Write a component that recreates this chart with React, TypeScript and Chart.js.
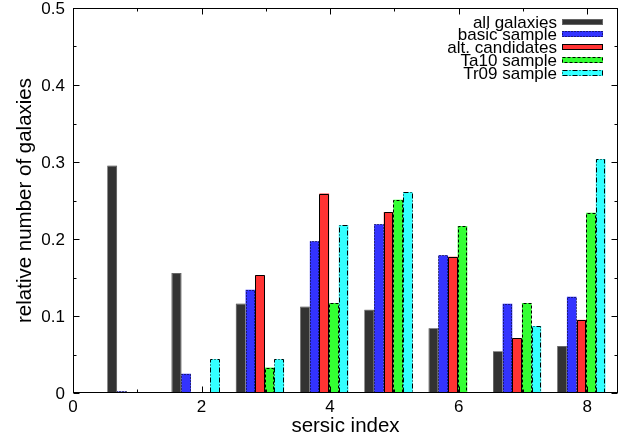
import React, { useEffect, useRef } from "react";
import { Chart, registerables } from "chart.js";

Chart.register(...registerables);

// Sersic index bins and the relative number of galaxies per sample
const sersicBins = [1, 2, 3, 4, 5, 6, 7, 8];
const allGalaxies = [0.295, 0.156, 0.116, 0.112, 0.108, 0.084, 0.054, 0.061];
const basicSample = [0.002, 0.025, 0.134, 0.197, 0.219, 0.179, 0.116, 0.125];
const altCandidates = [null, null, 0.153, 0.259, 0.235, 0.177, 0.071, 0.095];
const ta10Sample = [null, null, 0.033, 0.117, 0.251, 0.217, 0.117, 0.234];
const tr09Sample = [null, 0.044, 0.044, 0.218, 0.261, null, 0.087, 0.304];

const seriesLabels = ["all galaxies", "basic sample", "alt. candidates", "Ta10 sample", "Tr09 sample"];
const seriesValues = [allGalaxies, basicSample, altCandidates, ta10Sample, tr09Sample];

// Axis ticks
const xMajorTicks = [0, 2, 4, 6, 8];
const xMinorTicks = [1, 3, 5, 7];
const yMajorTicks = [0, 0.1, 0.2, 0.3, 0.4, 0.5];
const yMajorLabels = ["0", "0.1", "0.2", "0.3", "0.4", "0.5"];
const yMinorTicks = [0.05, 0.15, 0.25, 0.35, 0.45];

// Styling per series: fill, outline colour and outline dash
const seriesStyles = [
  { fill: "#333333", stroke: "#9a9a9a", dash: [1, 1] },
  { fill: "#3333ff", stroke: "#000000", dash: [1, 2] },
  { fill: "#ff3333", stroke: "#000000", dash: [] },
  { fill: "#33ff33", stroke: "#000000", dash: [3, 2] },
  { fill: "#33ffff", stroke: "#000000", dash: [5, 2, 1, 2] },
];

const GROUP_SHIFT = -0.09;
const FONT = '"Liberation Sans", Arial, Helvetica, sans-serif';

const framePlugin = {
  id: "gnuplotFrame",
  afterDatasetsDraw(chart: any) {
    const ctx = chart.ctx as CanvasRenderingContext2D;
    const { left, right, top, bottom } = chart.chartArea;
    const xs = chart.scales.x;
    const ys = chart.scales.y;

    ctx.save();
    // bar outlines (bins without a value get none)
    chart.data.datasets.forEach((ds: any, i: number) => {
      const meta = chart.getDatasetMeta(i);
      const st = seriesStyles[i];
      meta.data.forEach((el: any, j: number) => {
        const raw = ds.data[j];
        if (!raw || raw.y === null || raw.y === undefined) return;
        const p = el.getProps(["x", "y", "base", "width"], true);
        if (!isFinite(p.y) || !isFinite(p.base)) return;
        const x0 = Math.round(p.x - p.width / 2) + 0.5;
        const x1 = Math.round(p.x + p.width / 2) - 0.5;
        const y0 = Math.round(p.y) + 0.5;
        const y1 = Math.round(p.base) - 0.5;
        ctx.strokeStyle = st.stroke;
        ctx.lineWidth = 1;
        ctx.setLineDash(st.dash);
        ctx.beginPath();
        ctx.moveTo(x0, y1);
        ctx.lineTo(x0, y0);
        ctx.lineTo(x1, y0);
        ctx.lineTo(x1, y1);
        ctx.stroke();
      });
    });
    ctx.setLineDash([]);

    // frame
    ctx.strokeStyle = "#000";
    ctx.lineWidth = 1;
    ctx.strokeRect(Math.round(left) + 0.5, Math.round(top) + 0.5, Math.round(right - left) - 1, Math.round(bottom - top) - 1);

    // inward tick marks on all four sides
    const tick = (px: number, py: number, dx: number, dy: number) => {
      ctx.beginPath();
      ctx.moveTo(px, py);
      ctx.lineTo(px + dx, py + dy);
      ctx.stroke();
    };
    const bx = Math.round(bottom) - 0.5;
    const tx = Math.round(top) + 0.5;
    const lx = Math.round(left) + 0.5;
    const rx = Math.round(right) - 0.5;
    xMajorTicks.forEach((v) => {
      const px = Math.round(xs.getPixelForValue(v)) + 0.5;
      tick(px, bx, 0, -6);
      tick(px, tx, 0, 6);
    });
    xMinorTicks.forEach((v) => {
      const px = Math.round(xs.getPixelForValue(v)) + 0.5;
      tick(px, bx, 0, -3);
      tick(px, tx, 0, 3);
    });
    yMajorTicks.forEach((v) => {
      const py = Math.round(ys.getPixelForValue(v)) + 0.5;
      tick(lx, py, 6, 0);
      tick(rx, py, -6, 0);
    });
    yMinorTicks.forEach((v) => {
      const py = Math.round(ys.getPixelForValue(v)) + 0.5;
      tick(lx, py, 3, 0);
      tick(rx, py, -3, 0);
    });

    // tick labels
    ctx.fillStyle = "#000";
    ctx.font = `17px ${FONT}`;
    ctx.textBaseline = "alphabetic";
    ctx.textAlign = "center";
    xMajorTicks.forEach((v) => {
      ctx.fillText(String(v), xs.getPixelForValue(v), bottom + 19);
    });
    ctx.textAlign = "right";
    yMajorTicks.forEach((v, i) => {
      ctx.fillText(yMajorLabels[i], left - 8, ys.getPixelForValue(v) + 6);
    });

    // axis titles
    ctx.font = `20.5px ${FONT}`;
    ctx.textAlign = "center";
    ctx.fillText("sersic index", (left + right) / 2, bottom + 39);
    ctx.save();
    ctx.translate(31, (top + bottom) / 2);
    ctx.rotate(-Math.PI / 2);
    ctx.fillText("relative number of galaxies", 0, 0);
    ctx.restore();

    // key, top right inside the plot
    ctx.font = `17px ${FONT}`;
    ctx.textAlign = "right";
    seriesLabels.forEach((label, i) => {
      const cy = 21.5 + i * 12.95;
      ctx.fillStyle = "#000";
      ctx.fillText(label, 557, cy + 6);
      const st = seriesStyles[i];
      ctx.fillStyle = st.fill;
      ctx.fillRect(562, Math.round(cy) - 3, 41, 6);
      ctx.strokeStyle = st.stroke;
      ctx.setLineDash(st.dash);
      ctx.strokeRect(562.5, Math.round(cy) - 2.5, 40, 5);
      ctx.setLineDash([]);
    });
    ctx.restore();
  },
};

export default function App() {
  const canvasRef = useRef<HTMLCanvasElement | null>(null);

  useEffect(() => {
    if (!canvasRef.current) return;
    const chart = new Chart(canvasRef.current, {
      type: "bar",
      data: {
        datasets: seriesValues.map((vals, i) => ({
          label: seriesLabels[i],
          data: sersicBins.map((b, j) => ({ x: b + GROUP_SHIFT, y: vals[j] })),
          backgroundColor: seriesStyles[i].fill,
          borderWidth: 0,
          categoryPercentage: 0.75,
          barPercentage: 1,
        })),
      },
      plugins: [framePlugin],
      options: {
        responsive: false,
        animation: false,
        devicePixelRatio: 1,
        layout: { padding: { left: 73, right: 19, top: 8, bottom: 51 } },
        plugins: { legend: { display: false }, tooltip: { enabled: false } },
        scales: {
          x: { type: "linear", min: 0, max: 8.48, offset: false, display: false },
          y: { type: "linear", min: 0, max: 0.5, display: false },
        },
      },
    } as any);
    return () => chart.destroy();
  }, []);

  return (
    <div style={{ position: "fixed", left: 0, top: 0, width: 637, height: 444, background: "#fff" }}>
      <canvas ref={canvasRef} width={637} height={444} />
    </div>
  );
}
